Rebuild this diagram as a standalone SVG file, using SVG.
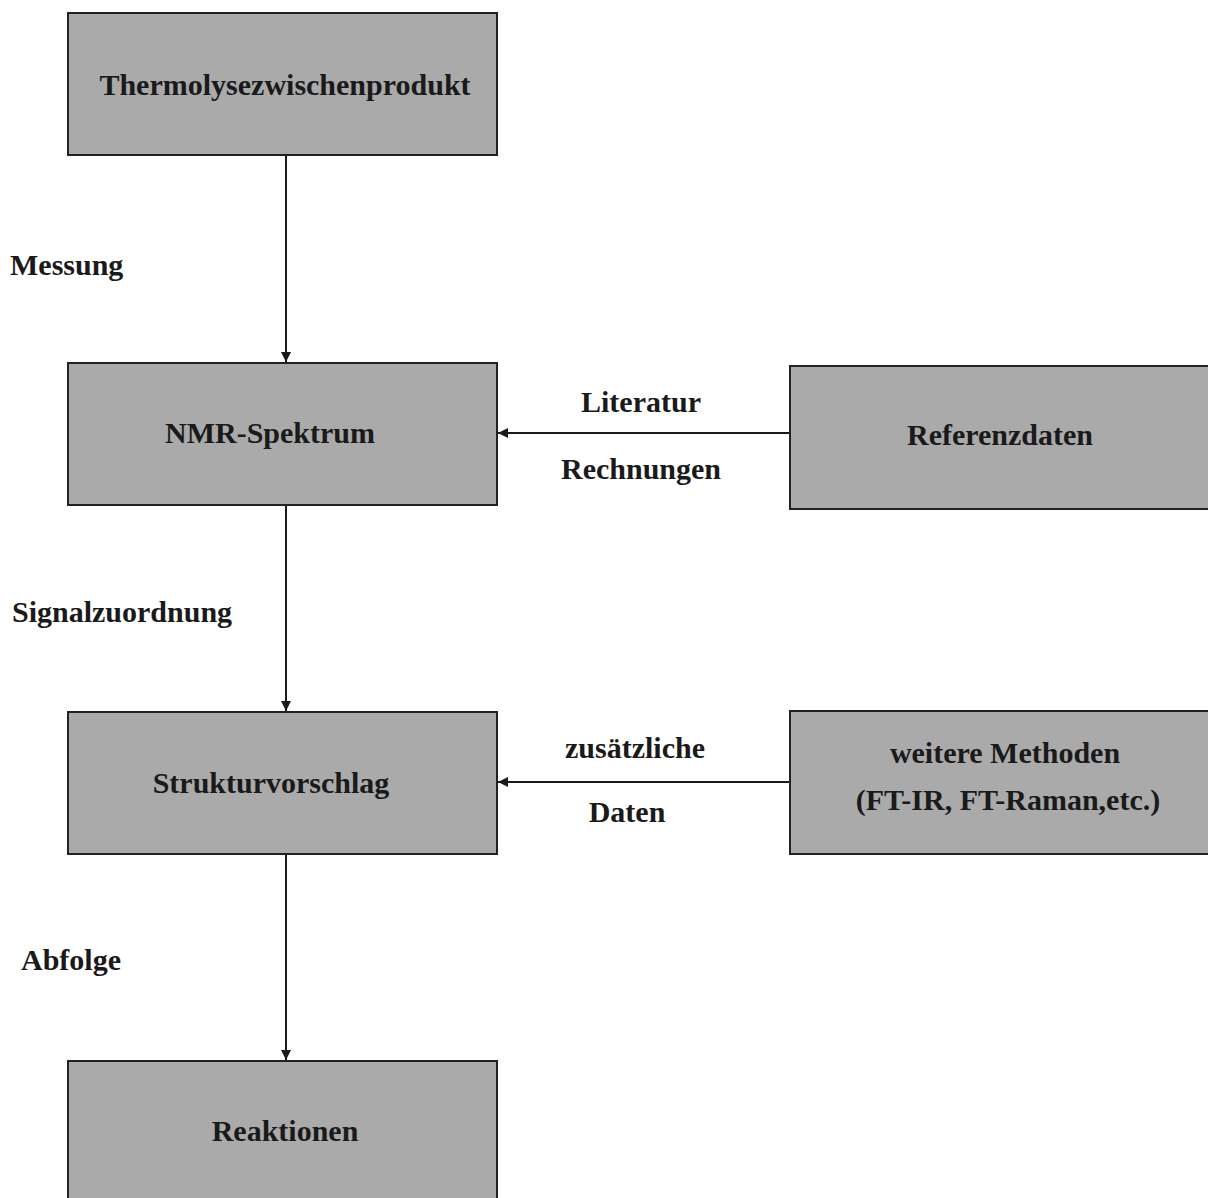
<svg xmlns="http://www.w3.org/2000/svg" width="1208" height="1198" viewBox="0 0 1208 1198">
<style>
.box{fill:#aaaaaa;stroke:#222222;stroke-width:2}
.t{font-family:"Liberation Serif","Times New Roman",serif;font-weight:bold;font-size:30px;fill:#1a1a1a}
.c{text-anchor:middle}
.ln{stroke:#1a1a1a;stroke-width:2;fill:none}
</style>
<defs>
<marker id="ah" viewBox="0 0 10 10" refX="10" refY="5" markerWidth="5" markerHeight="5" orient="auto" markerUnits="strokeWidth">
<path d="M0,0 L10,5 L0,10 Z" fill="#1a1a1a"/>
</marker>
</defs>
<rect width="1208" height="1198" fill="#ffffff"/>
<g id="connectors">
<line class="ln" x1="286" y1="156" x2="286" y2="362" marker-end="url(#ah)"/>
<line class="ln" x1="286" y1="506" x2="286" y2="711" marker-end="url(#ah)"/>
<line class="ln" x1="286" y1="855" x2="286" y2="1060" marker-end="url(#ah)"/>
<line class="ln" x1="790" y1="433" x2="498" y2="433" marker-end="url(#ah)"/>
<line class="ln" x1="790" y1="782" x2="498" y2="782" marker-end="url(#ah)"/>
<text class="t" x="10" y="275">Messung</text>
<text class="t" x="12" y="622">Signalzuordnung</text>
<text class="t" x="21" y="970">Abfolge</text>
<text class="t c" x="641" y="412">Literatur</text>
<text class="t c" x="641" y="479">Rechnungen</text>
<text class="t c" x="635" y="758">zusätzliche</text>
<text class="t c" x="627" y="822">Daten</text>
</g>
<g id="n1"><rect class="box" x="68" y="13" width="429" height="142"/><text class="t c" x="285" y="95">Thermolysezwischenprodukt</text></g>
<g id="n2"><rect class="box" x="68" y="363" width="429" height="142"/><text class="t c" x="270" y="443">NMR-Spektrum</text></g>
<g id="n3"><rect class="box" x="790" y="366" width="430" height="143"/><text class="t c" x="1000" y="445">Referenzdaten</text></g>
<g id="n4"><rect class="box" x="68" y="712" width="429" height="142"/><text class="t c" x="271" y="793">Strukturvorschlag</text></g>
<g id="n5"><rect class="box" x="790" y="711" width="430" height="143"/><text class="t c" x="1005" y="763">weitere Methoden</text><text class="t c" x="1008" y="810">(FT-IR, FT-Raman,etc.)</text></g>
<g id="n6"><rect class="box" x="68" y="1061" width="429" height="150"/><text class="t c" x="285" y="1141">Reaktionen</text></g>
</svg>
